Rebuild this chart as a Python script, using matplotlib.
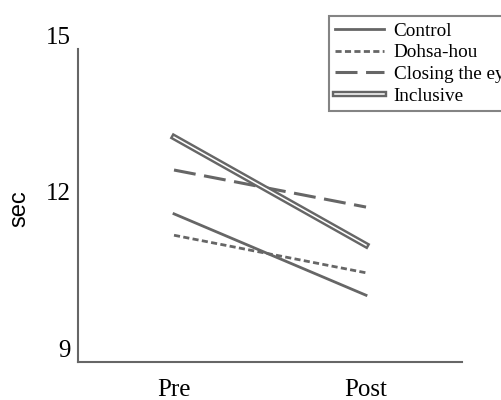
import matplotlib
matplotlib.use("Agg")
import matplotlib.pyplot as plt
import matplotlib.patheffects as pe

# data
phases = ["Pre", "Post"]
control = [11.84, 10.28]
dohsa = [11.43, 10.71]
closing = [12.68, 11.97]
inclusive = [13.31, 11.24]
yticks = [9, 12, 15]

GREY = "#666666"
plt.rcParams["font.family"] = ["Liberation Serif", "DejaVu Serif"]

fig = plt.figure(figsize=(5.01, 4.0), dpi=100)
ax = fig.add_axes([0.1557, 0.095, 0.7665, 0.7825])
x = list(range(len(phases)))

ax.plot(x, control, "-", color=GREY, lw=2, label="Control")
ax.plot(x, dohsa, color=GREY, lw=2, ls=(0, (2.2, 1.2)), label="Dohsa-hou")
ax.plot(x, closing, color=GREY, lw=2.2, ls=(0, (7.2, 2.8)), label="Closing the eyes")
ax.plot(x, inclusive, color="white", lw=1.1, label="Inclusive",
        path_effects=[pe.Stroke(linewidth=4.6, foreground=GREY), pe.Normal()])

ax.set_xlim(-0.5, 1.5)
ax.set_ylim(9, 15)
ax.set_xticks(x)
ax.set_xticklabels(phases, fontsize=18)
ax.set_yticks(yticks)
ax.set_yticklabels([str(v) for v in yticks], fontsize=18)
for lab in ax.get_yticklabels():
    lab.set_va("bottom")
ax.tick_params(axis="x", length=0, pad=12.5)
ax.tick_params(axis="y", length=0, pad=5)
fig.text(19 / 501, 1 - 209 / 400, "sec", rotation=90, ha="center", va="center",
         fontsize=17, family=["Liberation Sans", "DejaVu Sans"])
for s in ["top", "right"]:
    ax.spines[s].set_visible(False)
for s in ["left", "bottom"]:
    ax.spines[s].set_color(GREY)
    ax.spines[s].set_linewidth(1.5)

leg = ax.legend(loc="upper left", bbox_to_anchor=(0.654, 1.105), fontsize=13.8,
                frameon=True, fancybox=False, borderaxespad=0, handlelength=2.55,
                labelspacing=0.22, borderpad=0.32, handletextpad=0.5)
leg.get_frame().set_edgecolor(GREY)
leg.get_frame().set_linewidth(1.5)
leg.set_clip_on(False)

fig.savefig("out.png", dpi=100)
